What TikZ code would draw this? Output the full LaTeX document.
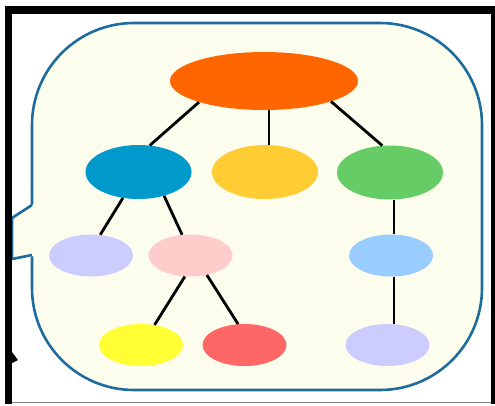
\documentclass[tikz,border=0pt]{standalone}
\usetikzlibrary{shapes.geometric}
\definecolor{qframe}{RGB}{30,108,158}
\definecolor{qfill}{RGB}{253,253,238}
\definecolor{qorange}{RGB}{255,102,0}
\definecolor{qblue}{RGB}{0,153,204}
\definecolor{qgold}{RGB}{255,204,51}
\definecolor{qgreen}{RGB}{102,204,102}
\definecolor{qlilac}{RGB}{204,204,255}
\definecolor{qpink}{RGB}{255,204,204}
\definecolor{qsky}{RGB}{153,204,255}
\definecolor{qyellow}{RGB}{255,255,51}
\definecolor{qred}{RGB}{255,102,102}
\begin{document}
\begin{tikzpicture}[x=1pt,y=-1pt,
  blob/.style={ellipse,inner sep=0pt,minimum width=84pt,minimum height=42pt},
  midblob/.style={blob,minimum width=106pt,minimum height=54pt},
  link/.style={line width=2.8pt}]
\useasboundingbox (0,0) rectangle (495,405);

%bubble:
 \draw[qframe,fill=qfill,line width=2.6pt,rounded corners=102pt] (32,23) rectangle (482,390);
 \fill[qfill] (34,204) -- (12,217) -- (12,260) -- (34,256) -- cycle;
 \draw[qframe,line width=2.6pt] (32,205) -- (12,218) -- (12,259) -- (32,255);

%frame:
 \fill (5,6) rectangle (12,404);
 \fill (5,6) rectangle (495,14);
 \fill (491,6) rectangle (495,404);
 \draw[gray,line width=1pt] (12,402.5) -- (491,402.5);
 \fill (12,352) -- (18,360) -- (12,363) -- cycle;

%tree
 \node[blob,fill=qorange,minimum width=188pt,minimum height=58pt] (root) at (264,81) {};
 \node[midblob,fill=qblue] (b1) at (138.5,172) {};
 \node[midblob,fill=qgold] (b2) at (265,172) {};
 \node[midblob,fill=qgreen] (b3) at (390,172.5) {};
 \node[blob,fill=qlilac] (c1) at (91,255.5) {};
 \node[blob,fill=qpink] (c2) at (190.5,255.5) {};
 \node[blob,fill=qsky] (c3) at (391,255.5) {};
 \node[blob,fill=qyellow] (d1) at (141,345) {};
 \node[blob,fill=qred] (d2) at (244.5,345) {};
 \node[blob,fill=qlilac] (d3) at (387.5,345) {};

 \draw[link] (root.198) -- (b1.67);
 \draw[link] ([xshift=5pt]root.south) -- ([xshift=4pt]b2.north);
 \draw[link] (root.343) -- (b3.106);
 \draw[link] (b1.239) -- (c1.66);
 \draw[link] (b1.317) -- (c2.112);
 \draw[link] (c2.255) -- (d1.56);
 \draw[link] (c2.310) -- (d2.107);
 \draw[link] ([xshift=4pt]b3.south) -- ([xshift=3pt]c3.north);
 \draw[link] ([xshift=3pt]c3.south) -- ([xshift=6.5pt]d3.north);
\end{tikzpicture}
\end{document}
